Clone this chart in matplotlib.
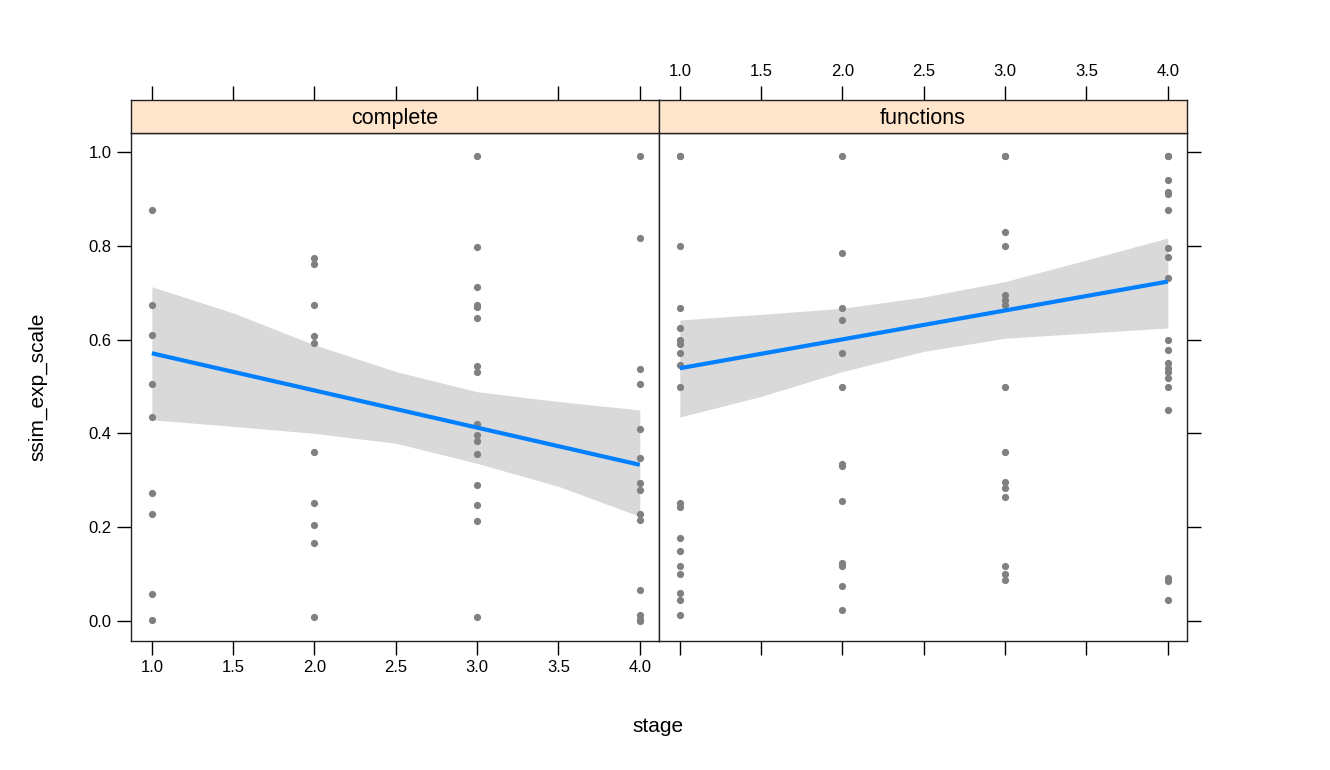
import matplotlib
matplotlib.use('Agg')
import matplotlib.pyplot as plt
import numpy as np

plt.rcParams['font.family'] = ['Liberation Sans', 'DejaVu Sans']

panels = ['complete', 'functions']
stages = [1, 2, 3, 4]

complete_s1 = [0.877, 0.673, 0.61, 0.505, 0.436, 0.273, 0.228, 0.057, 0.001]
complete_s2 = [0.774, 0.762, 0.673, 0.607, 0.592, 0.360, 0.252, 0.204, 0.167, 0.009]
complete_s3 = [0.991, 0.797, 0.713, 0.675, 0.670, 0.646, 0.543, 0.531, 0.420,
               0.397, 0.383, 0.356, 0.290, 0.247, 0.212, 0.009]
complete_s4 = [0.991, 0.818, 0.537, 0.505, 0.409, 0.347, 0.294, 0.280, 0.228,
               0.215, 0.066, 0.012, 0.005, 0.0]

functions_s1 = [0.991, 0.991, 0.800, 0.667, 0.624, 0.600, 0.591, 0.571, 0.546,
                0.500, 0.251, 0.244, 0.176, 0.150, 0.117, 0.100, 0.059, 0.045, 0.013]
functions_s2 = [0.991, 0.785, 0.667, 0.642, 0.571, 0.500, 0.335, 0.330, 0.255,
                0.124, 0.118, 0.075, 0.023]
functions_s3 = [0.991, 0.991, 0.829, 0.799, 0.696, 0.685, 0.674, 0.500, 0.361,
                0.297, 0.283, 0.265, 0.118, 0.100, 0.088]
functions_s4 = [0.991, 0.991, 0.941, 0.916, 0.910, 0.877, 0.795, 0.777, 0.731,
                0.600, 0.578, 0.550, 0.539, 0.530, 0.518, 0.500, 0.450, 0.091,
                0.084, 0.045]

data = {
    'complete': [complete_s1, complete_s2, complete_s3, complete_s4],
    'functions': [functions_s1, functions_s2, functions_s3, functions_s4],
}

# fitted line (ends) and confidence band
fit_x = [1.0, 4.0]
fit_complete = [0.571, 0.333]
fit_functions = [0.539, 0.724]
band_x = [1.0, 1.5, 2.0, 2.5, 3.0, 3.5, 4.0]
band_lo_complete = [0.429, 0.415, 0.400, 0.379, 0.336, 0.287, 0.223]
band_hi_complete = [0.713, 0.657, 0.589, 0.532, 0.489, 0.468, 0.450]
band_lo_functions = [0.435, 0.479, 0.532, 0.575, 0.603, 0.614, 0.625]
band_hi_functions = [0.642, 0.654, 0.667, 0.691, 0.724, 0.770, 0.817]

fits = {'complete': fit_complete, 'functions': fit_functions}
bands = {'complete': (band_lo_complete, band_hi_complete),
         'functions': (band_lo_functions, band_hi_functions)}

xticks = [1.0, 1.5, 2.0, 2.5, 3.0, 3.5, 4.0]
yticks = [0.0, 0.2, 0.4, 0.6, 0.8, 1.0]

W, H = 1330, 770
fig = plt.figure(figsize=(W / 100, H / 100), dpi=100)

lefts = [131, 659]
pw = 528
top, bottom, strip_top = 133, 641, 100

for i, name in enumerate(panels):
    l = lefts[i]
    ax = fig.add_axes([l / W, 1 - bottom / H, pw / W, (bottom - top) / H])
    sx = fig.add_axes([l / W, 1 - top / H, pw / W, (top - strip_top) / H])

    xs, ys = [], []
    for st, vals in zip(stages, data[name]):
        xs += [st] * len(vals)
        ys += vals

    lo, hi = bands[name]
    ax.fill_between(band_x, lo, hi, color='#d9d9d9', lw=0, zorder=1)
    ax.scatter(xs, ys, s=27, color='#808080', lw=0, zorder=2)
    ax.plot(fit_x, fits[name], color='#0080ff', lw=3, zorder=3,
            solid_capstyle='butt')

    ax.set_xlim(0.872, 4.118)
    ax.set_ylim(-0.043, 1.041)
    sx.set_xlim(0.872, 4.118)
    sx.set_ylim(0, 1)
    sx.set_facecolor('#ffe5cc')
    sx.text(0.5, 0.45, name, transform=sx.transAxes, ha='center', va='center',
            fontsize=15.5)

    for a in (ax, sx):
        for sp in a.spines.values():
            sp.set_linewidth(1.0)
            sp.set_color('#222222')

    ax.set_xticks(xticks)
    sx.set_xticks(xticks)
    sx.set_yticks([])
    sx.tick_params(axis='x', direction='out', length=10, width=1,
                   bottom=False, top=True, labelbottom=False,
                   labeltop=(i == 1), labelsize=12, pad=5)
    ax.tick_params(axis='x', direction='out', length=10, width=1,
                   top=False, bottom=True, labelbottom=(i == 0),
                   labelsize=12, pad=4)
    ax.set_xticklabels(['%.1f' % v for v in xticks])
    sx.set_xticklabels(['%.1f' % v for v in xticks])

    ax.set_yticks(yticks)
    ax.set_yticklabels(['%.1f' % v for v in yticks])
    if i == 0:
        ax.tick_params(axis='y', direction='out', length=10, width=1,
                       left=True, right=False, labelleft=True,
                       labelsize=12, pad=4)
    else:
        ax.tick_params(axis='y', direction='out', length=10, width=1,
                       left=False, right=True, labelleft=False,
                       labelright=False)

fig.text(38 / W, 1 - 387 / H, 'ssim_exp_scale', rotation=90, ha='center',
         va='center', fontsize=15)
fig.text(658 / W, 1 - 727 / H, 'stage', ha='center', va='center', fontsize=15)

fig.savefig('out.png', dpi=100)
